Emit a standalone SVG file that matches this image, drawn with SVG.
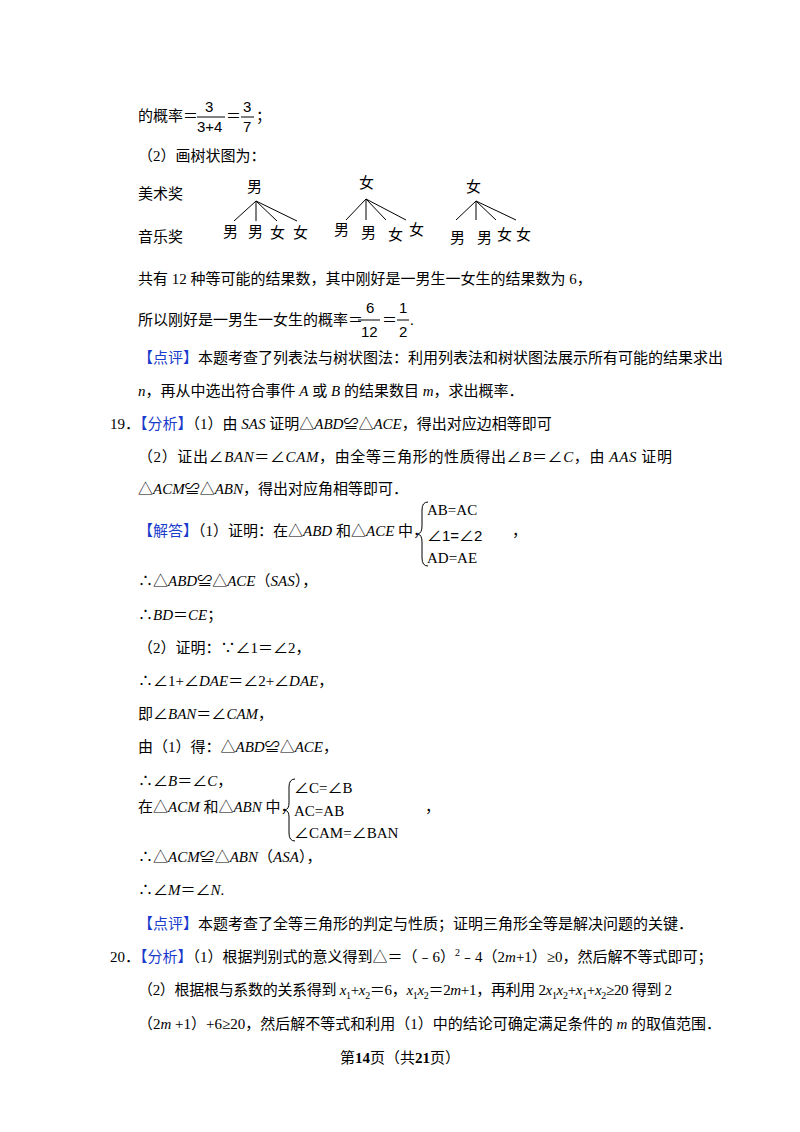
<svg xmlns="http://www.w3.org/2000/svg" width="800" height="1132" viewBox="0 0 800 1132">
<style>
text{font-family:"Liberation Serif","Noto Sans CJK SC",serif;font-size:15px;fill:#000}
.b{fill:#1a3ccc}
.i{font-style:italic}
.s{font-family:"Liberation Sans","Noto Sans CJK SC",sans-serif}
line{stroke:#000;stroke-width:1}
</style>
<rect width="800" height="1132" fill="#fff"/>
<text x="138" y="121">的概率＝</text>
<text x="205" y="112" class="s" font-size="16">3</text>
<line x1="197" y1="117" x2="225" y2="117"/>
<text x="197" y="132" class="s" font-size="14">3+4</text>
<text x="226" y="121">＝</text>
<text x="243" y="112" class="s" font-size="16">3</text>
<line x1="241" y1="117" x2="254" y2="117"/>
<text x="243" y="132" class="s" font-size="14">7</text>
<text x="256" y="121">；</text>
<text x="138" y="161">（2）画树状图为：</text>
<g id="tree">
<text x="138" y="199" class="s">美术奖</text>
<text x="138" y="242" class="s">音乐奖</text>
<text x="247" y="192" class="s">男</text>
<text x="359" y="188" class="s">女</text>
<text x="466" y="192" class="s">女</text>
<line x1="256" y1="201" x2="234" y2="221"/><line x1="256" y1="201" x2="256" y2="221"/><line x1="256" y1="201" x2="277" y2="221"/><line x1="256" y1="201" x2="297" y2="221"/>
<line x1="366" y1="199" x2="346" y2="220"/><line x1="366" y1="199" x2="366" y2="220"/><line x1="366" y1="199" x2="386" y2="220"/><line x1="366" y1="199" x2="406" y2="220"/>
<line x1="476" y1="201" x2="456" y2="220"/><line x1="476" y1="201" x2="476" y2="220"/><line x1="476" y1="201" x2="496" y2="220"/><line x1="476" y1="201" x2="516" y2="220"/>
<text x="223" y="237" class="s">男</text><text x="248" y="237" class="s">男</text><text x="270" y="238" class="s">女</text><text x="293" y="238" class="s">女</text>
<text x="334" y="235" class="s">男</text><text x="361" y="238" class="s">男</text><text x="388" y="240" class="s">女</text><text x="409" y="235" class="s">女</text>
<text x="450" y="243" class="s">男</text><text x="477" y="243" class="s">男</text><text x="497" y="240" class="s">女</text><text x="516" y="240" class="s">女</text>
</g>
<text x="138" y="284">共有 12 种等可能的结果数，其中刚好是一男生一女生的结果数为 6，</text>
<text x="138" y="325">所以刚好是一男生一女生的概率＝</text>
<text x="366" y="313" class="s">6</text>
<line x1="358" y1="320" x2="380" y2="320"/>
<text x="361" y="337" class="s">12</text>
<text x="382" y="325">＝</text>
<text x="399" y="313" class="s">1</text>
<line x1="397" y1="320" x2="409" y2="320"/>
<text x="399" y="337" class="s">2</text>
<text x="410" y="325">.</text>
<text x="138" y="363"><tspan class="b">【点评】</tspan>本题考查了列表法与树状图法：利用列表法和树状图法展示所有可能的结果求出</text>
<text x="138" y="396"><tspan class="i">n</tspan>，再从中选出符合事件 <tspan class="i">A</tspan> 或 <tspan class="i">B</tspan> 的结果数目 <tspan class="i">m</tspan>，求出概率．</text>
<text x="110" y="429">19．<tspan class="b">【分析】</tspan>（1）由 <tspan class="i">SAS</tspan> 证明△<tspan class="i">ABD</tspan>≌△<tspan class="i">ACE</tspan>，得出对应边相等即可</text>
<text x="138" y="462" textLength="534">（2）证出∠<tspan class="i">BAN</tspan>＝∠<tspan class="i">CAM</tspan>，由全等三角形的性质得出∠<tspan class="i">B</tspan>＝∠<tspan class="i">C</tspan>，由 <tspan class="i">AAS</tspan> 证明</text>
<text x="138" y="494">△<tspan class="i">ACM</tspan>≌△<tspan class="i">ABN</tspan>，得出对应角相等即可．</text>
<text x="138" y="536"><tspan class="b">【解答】</tspan>（1）证明：在△<tspan class="i">ABD</tspan> 和△<tspan class="i">ACE</tspan> 中，</text>
<path d="M428,502 Q422,502 422,510 L422,526 Q422,533 418,534 Q422,535 422,542 L422,558 Q422,566 428,566" fill="none" stroke="#000"/>
<text x="427" y="515" font-size="14">AB=AC</text>
<text x="427" y="541" class="s" font-size="15">∠1=∠2</text>
<text x="427" y="563" font-size="14">AD=AE</text>
<text x="512" y="536">，</text>
<text x="138" y="586">∴△<tspan class="i">ABD</tspan>≌△<tspan class="i">ACE</tspan>（<tspan class="i">SAS</tspan>），</text>
<text x="138" y="620">∴<tspan class="i">BD</tspan>＝<tspan class="i">CE</tspan>；</text>
<text x="138" y="653">（2）证明：∵∠1＝∠2，</text>
<text x="138" y="686">∴∠1+∠<tspan class="i">DAE</tspan>＝∠2+∠<tspan class="i">DAE</tspan>，</text>
<text x="138" y="719">即∠<tspan class="i">BAN</tspan>＝∠<tspan class="i">CAM</tspan>，</text>
<text x="138" y="752">由（1）得：△<tspan class="i">ABD</tspan>≌△<tspan class="i">ACE</tspan>，</text>
<text x="138" y="786">∴∠<tspan class="i">B</tspan>＝∠<tspan class="i">C</tspan>，</text>
<text x="138" y="812">在△<tspan class="i">ACM</tspan> 和△<tspan class="i">ABN</tspan> 中，</text>
<path d="M295,779 Q289,779 289,787 L289,803 Q289,809 285,810 Q289,811 289,817 L289,833 Q289,841 295,841" fill="none" stroke="#000"/>
<text x="294" y="793" font-size="14">∠C=∠B</text>
<text x="294" y="816" font-size="14">AC=AB</text>
<text x="294" y="838" font-size="14">∠CAM=∠BAN</text>
<text x="425" y="812">，</text>
<text x="138" y="862">∴△<tspan class="i">ACM</tspan>≌△<tspan class="i">ABN</tspan>（<tspan class="i">ASA</tspan>），</text>
<text x="138" y="895">∴∠<tspan class="i">M</tspan>＝∠<tspan class="i">N</tspan>.</text>
<text x="138" y="929"><tspan class="b">【点评】</tspan>本题考查了全等三角形的判定与性质；证明三角形全等是解决问题的关键．</text>
<text x="110" y="962">20．<tspan class="b">【分析】</tspan>（1）根据判别式的意义得到△＝（﹣6）<tspan font-size="10" dy="-6">2</tspan><tspan dy="6">﹣4（2<tspan class="i">m</tspan>+1）≥0，然后解不等式即可；</tspan></text>
<text x="138" y="995" textLength="534">（2）根据根与系数的关系得到 <tspan class="i">x</tspan><tspan font-size="10" dy="4">1</tspan><tspan dy="-4">+<tspan class="i">x</tspan></tspan><tspan font-size="10" dy="4">2</tspan><tspan dy="-4">＝6，<tspan class="i">x</tspan></tspan><tspan font-size="10" dy="4">1</tspan><tspan dy="-4" class="i">x</tspan><tspan font-size="10" dy="4">2</tspan><tspan dy="-4">＝2<tspan class="i">m</tspan>+1，再利用 2<tspan class="i">x</tspan></tspan><tspan font-size="10" dy="4">1</tspan><tspan dy="-4" class="i">x</tspan><tspan font-size="10" dy="4">2</tspan><tspan dy="-4">+<tspan class="i">x</tspan></tspan><tspan font-size="10" dy="4">1</tspan><tspan dy="-4">+<tspan class="i">x</tspan></tspan><tspan font-size="10" dy="4">2</tspan><tspan dy="-4">≥20 得到 2</tspan></text>
<text x="138" y="1029">（2<tspan class="i">m</tspan> +1）+6≥20，然后解不等式和利用（1）中的结论可确定满足条件的 <tspan class="i">m</tspan> 的取值范围．</text>
<text x="340" y="1063" font-size="13">第<tspan font-weight="bold" font-size="15">14</tspan>页（共<tspan font-weight="bold" font-size="15">21</tspan>页）</text>
</svg>
